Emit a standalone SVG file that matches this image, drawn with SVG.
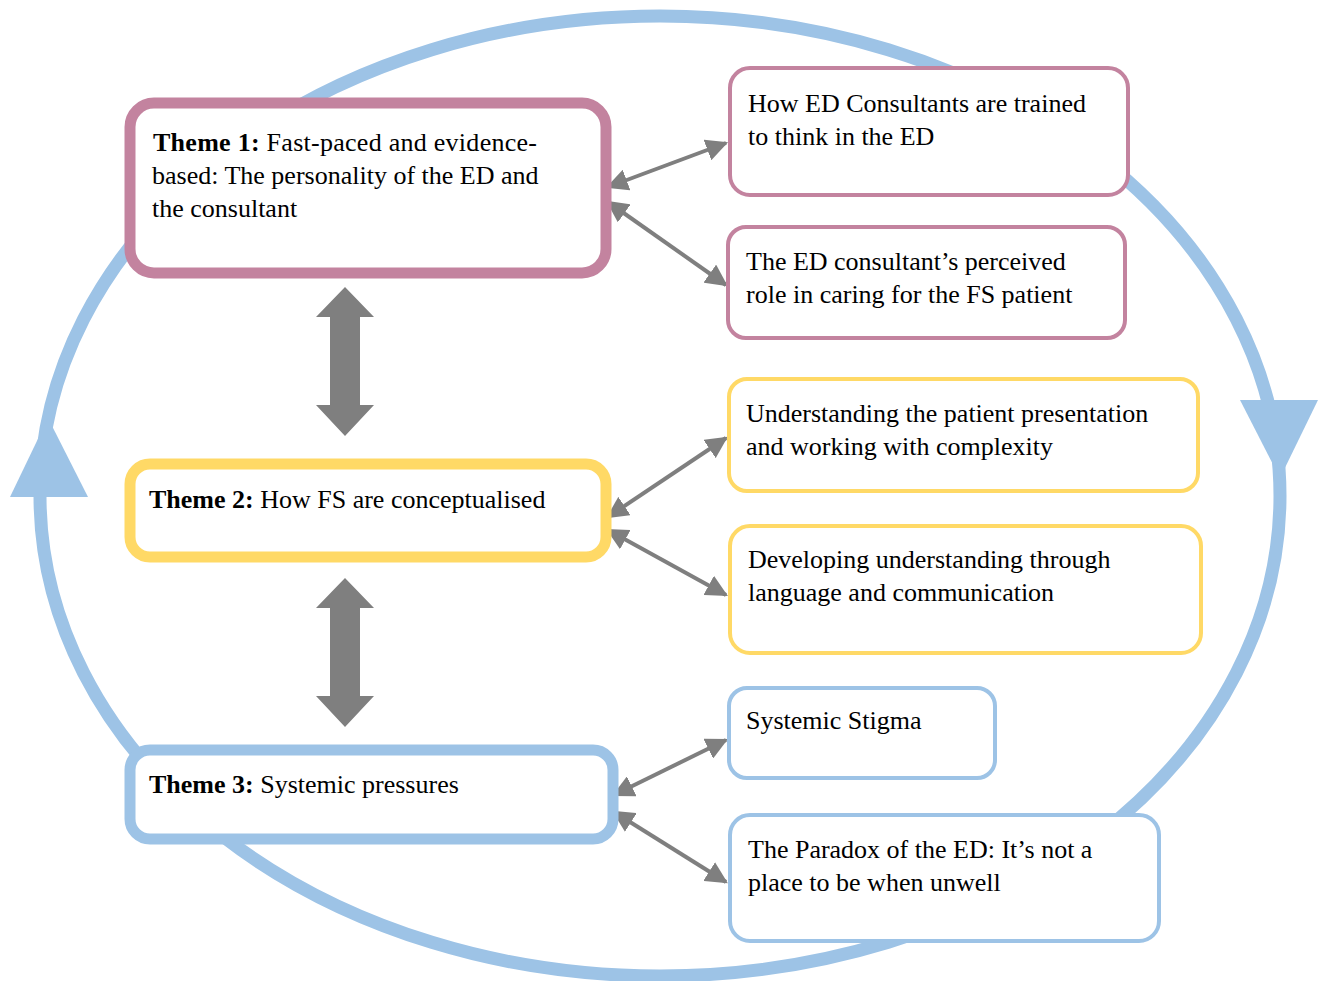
<svg xmlns="http://www.w3.org/2000/svg" width="1323" height="981" viewBox="0 0 1323 981">
<style>
text{font-family:"Liberation Serif","Times New Roman",serif;font-size:26px;fill:#000}
.b{font-weight:bold}
.pink{fill:#fff;stroke:#C3839F}
.yel{fill:#fff;stroke:#FFD966}
.blu{fill:#fff;stroke:#9DC3E6}
.thick{stroke-width:11}
.thin{stroke-width:4}
.con{stroke:#7F7F7F;stroke-width:4;fill:none;marker-start:url(#ah);marker-end:url(#ah)}
.big{fill:#7F7F7F}
</style>
<defs>
<marker id="ah" viewBox="0 0 10 10" refX="9" refY="5" markerWidth="5.5" markerHeight="5.5" markerUnits="strokeWidth" orient="auto-start-reverse">
<path d="M0,0 L10,5 L0,10 z" fill="#7F7F7F"/>
</marker>
</defs>
<g id="cycle">
<ellipse cx="660" cy="496" rx="620" ry="480" fill="none" stroke="#9DC3E6" stroke-width="13"/>
<polygon points="10,497 88,497 48,418" fill="#9DC3E6"/>
<polygon points="1240,400 1318,400 1280,478" fill="#9DC3E6"/>
</g>
<g id="connectors">
<line class="con" x1="608" y1="187" x2="726" y2="143"/>
<line class="con" x1="608" y1="202" x2="726" y2="285"/>
<line class="con" x1="608" y1="517" x2="726" y2="438"/>
<line class="con" x1="608" y1="530" x2="726" y2="595"/>
<line class="con" x1="614" y1="795" x2="726" y2="740"/>
<line class="con" x1="614" y1="812" x2="726" y2="882"/>
<polygon class="big" points="345,287 374,317 360,317 360,405 374,405 345,436 316,405 330,405 330,317 316,317"/>
<polygon class="big" points="345,578 374,608 360,608 360,696 374,696 345,727 316,696 330,696 330,608 316,608"/>
</g>
<g id="theme1">
<rect class="pink thick" x="130" y="103" width="476" height="170" rx="24"/>
<text x="153" y="151" textLength="384"><tspan class="b">Theme 1:</tspan> Fast-paced and evidence-</text>
<text x="152" y="184">based: The personality of the ED and</text>
<text x="152" y="217">the consultant</text>
</g>
<g id="theme2">
<rect class="yel thick" x="130" y="464" width="476" height="93" rx="20"/>
<text x="149" y="508"><tspan class="b">Theme 2:</tspan> How FS are conceptualised</text>
</g>
<g id="theme3">
<rect class="blu thick" x="130" y="750" width="483" height="89" rx="20"/>
<text x="149" y="793"><tspan class="b">Theme 3:</tspan> Systemic pressures</text>
</g>
<g id="sub1a">
<rect class="pink thin" x="730" y="68" width="398" height="127" rx="20"/>
<text x="748" y="112">How ED Consultants are trained</text>
<text x="748" y="145">to think in the ED</text>
</g>
<g id="sub1b">
<rect class="pink thin" x="728" y="227" width="397" height="111" rx="18"/>
<text x="746" y="270">The ED consultant’s perceived</text>
<text x="746" y="303">role in caring for the FS patient</text>
</g>
<g id="sub2a">
<rect class="yel thin" x="729" y="379" width="469" height="112" rx="18"/>
<text x="746" y="422">Understanding the patient presentation</text>
<text x="746" y="455">and working with complexity</text>
</g>
<g id="sub2b">
<rect class="yel thin" x="730" y="526" width="471" height="127" rx="20"/>
<text x="748" y="568">Developing understanding through</text>
<text x="748" y="601">language and communication</text>
</g>
<g id="sub3a">
<rect class="blu thin" x="729" y="688" width="266" height="90" rx="18"/>
<text x="746" y="729">Systemic Stigma</text>
</g>
<g id="sub3b">
<rect class="blu thin" x="730" y="815" width="429" height="126" rx="20"/>
<text x="748" y="858">The Paradox of the ED: It’s not a</text>
<text x="748" y="891">place to be when unwell</text>
</g>
</svg>
